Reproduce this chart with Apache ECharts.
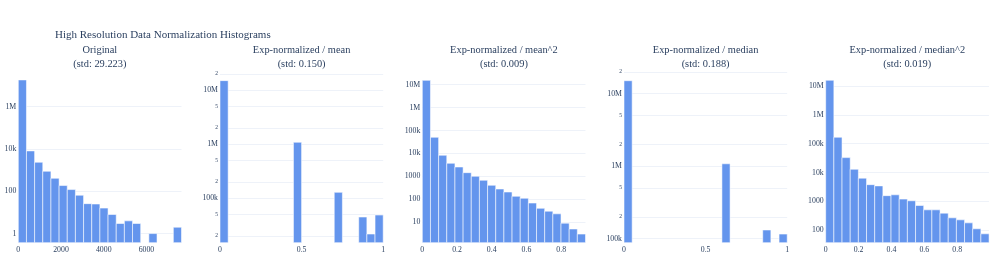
<!DOCTYPE html>
<html>
<head>
<meta charset="utf-8">
<script src="https://cdn.jsdelivr.net/npm/echarts@6/dist/echarts.min.js"></script>
<style>html,body{margin:0;padding:0;background:#fff;}#c{width:997px;height:266px;}</style>
</head>
<body>
<div id="c"></div>
<script>
// ---- data ----
const mainTitle = 'High Resolution Data Normalization Histograms';
const panelNames = ['Original', 'Exp-normalized / mean', 'Exp-normalized / mean^2', 'Exp-normalized / median', 'Exp-normalized / median^2'];
const panelStd = ['29.223', '0.150', '0.009', '0.188', '0.019'];

const binWidths = [382, 0.05, 0.047, 0.05, 0.0497];
const xMax = [7640, 1, 0.94, 1, 0.993];
const xTickStep = [2000, 0.5, 0.2, 0.5, 0.2];

const countsOriginal = [18200000, 8050, 2350, 880, 410, 186, 120, 65, 26, 25, 16, 8, 3, 4, 3, 0, 1, 0, 0, 2];
const countsMean = [15100000, 0, 0, 0, 0, 0, 0, 0, 0, 1090000, 0, 0, 0, 0, 129000, 0, 0, 45000, 21800, 49000];
const countsMeanSq = [15500000, 50500, 8300, 3700, 2550, 1440, 1000, 670, 405, 279, 206, 134, 110, 68, 40, 30, 23, 9, 5, 3];
const countsMedian = [15100000, 0, 0, 0, 0, 0, 0, 0, 0, 0, 0, 0, 1080000, 0, 0, 0, 0, 132000, 0, 116000];
const countsMedianSq = [15900000, 168000, 33000, 13000, 6400, 3800, 3450, 1580, 1690, 1200, 1050, 718, 509, 509, 391, 269, 229, 180, 112, 75];

// y range (log10 exponents)
const yLogMin = [-0.435, 4.176, 0.096, 4.944, 1.563];
const yLogMax = [7.658, 7.348, 7.576, 7.306, 7.506];

const yTicksOriginal = [1, 100, 1e4, 1e6];
const yTicksMean = [2e4, 5e4, 1e5, 2e5, 5e5, 1e6, 2e6, 5e6, 1e7, 2e7];
const yTicksMeanSq = [10, 100, 1000, 1e4, 1e5, 1e6, 1e7];
const yTicksMedian = [1e5, 2e5, 5e5, 1e6, 2e6, 5e6, 1e7, 2e7];
const yTicksMedianSq = [100, 1000, 1e4, 1e5, 1e6, 1e7];

const allCounts = [countsOriginal, countsMean, countsMeanSq, countsMedian, countsMedianSq];
const allYTicks = [yTicksOriginal, yTicksMean, yTicksMeanSq, yTicksMedian, yTicksMedianSq];

// ---- layout ----
const FONT = 'Liberation Serif';
const TXT = '#2a3f5f';
const gridLefts = [18.3, 220, 422.3, 624, 825.7];
const gridW = 163.2, gridTop = 71.5, gridH = 171.3;

function fmtY(v) {
  const e = Math.floor(Math.log10(v) + 1e-9);
  const m = Math.round(v / Math.pow(10, e));
  if (m !== 1) return '{m|' + m + '}';
  if (v >= 1e6) return (v / 1e6) + 'M';
  if (v >= 1e4) return (v / 1e3) + 'k';
  return String(v);
}

const grids = [], xAxes = [], yAxes = [], series = [], titles = [];
titles.push({
  text: mainTitle, left: 55, top: 28.5, padding: 0,
  textStyle: { fontFamily: FONT, fontSize: 11, fontWeight: 'normal', color: TXT, lineHeight: 13 }
});

for (let i = 0; i < 5; i++) {
  grids.push({ left: gridLefts[i], top: gridTop, width: gridW, height: gridH, containLabel: false });
  const step = xTickStep[i];
  xAxes.push({
    type: 'value', gridIndex: i, min: 0, max: xMax[i], interval: step,
    axisLine: { show: false }, axisTick: { show: false }, splitLine: { show: false },
    axisLabel: {
      fontFamily: FONT, fontSize: 7.8, color: TXT, margin: 3,
      formatter: function (v) {
        const r = v / step;
        if (Math.abs(r - Math.round(r)) > 1e-6) return '';
        return String(+v.toFixed(6));
      }
    }
  });
  const ticks = allYTicks[i];
  yAxes.push({
    type: 'log', logBase: 10, gridIndex: i,
    min: Math.pow(10, yLogMin[i]), max: Math.pow(10, yLogMax[i]),
    axisLine: { show: false },
    axisTick: { show: false, customValues: ticks },
    splitLine: { show: true, lineStyle: { color: '#EEF2F9', width: 1 } },
    axisLabel: {
      customValues: ticks,
      fontFamily: FONT, fontSize: 7.8, color: TXT, margin: 2,
      formatter: fmtY,
      rich: { m: { fontFamily: FONT, fontSize: 5.5, color: TXT } }
    }
  });
  const bw = binWidths[i];
  const data = [];
  allCounts[i].forEach(function (c, k) {
    if (c > 0) data.push([k * bw, (k + 1) * bw, c]);
  });
  series.push({
    type: 'custom', xAxisIndex: i, yAxisIndex: i, data: data,
    encode: { x: [0, 1], y: 2 },
    clip: true,
    renderItem: function (params, api) {
      const p0 = api.coord([api.value(0), api.value(2)]);
      const p1 = api.coord([api.value(1), api.value(2)]);
      const cs = params.coordSys;
      const bottom = cs.y + cs.height;
      return {
        type: 'rect',
        shape: { x: p0[0], y: p0[1], width: p1[0] - p0[0], height: bottom - p0[1] },
        style: { fill: '#6495ED', stroke: 'rgba(255,255,255,0.55)', lineWidth: 1 }
      };
    }
  });
  titles.push({
    text: panelNames[i] + '\n(std: ' + panelStd[i] + ')',
    left: gridLefts[i] + gridW / 2, top: 43, textAlign: 'center', padding: 0,
    textStyle: { fontFamily: FONT, fontSize: 10.4, fontWeight: 'normal', color: TXT, lineHeight: 14.3, align: 'center' }
  });
}

const chart = echarts.init(document.getElementById('c'), null, { renderer: 'canvas' });
chart.setOption({
  animation: false,
  backgroundColor: '#fff',
  title: titles,
  grid: grids,
  xAxis: xAxes,
  yAxis: yAxes,
  series: series
});
</script>
</body>
</html>
